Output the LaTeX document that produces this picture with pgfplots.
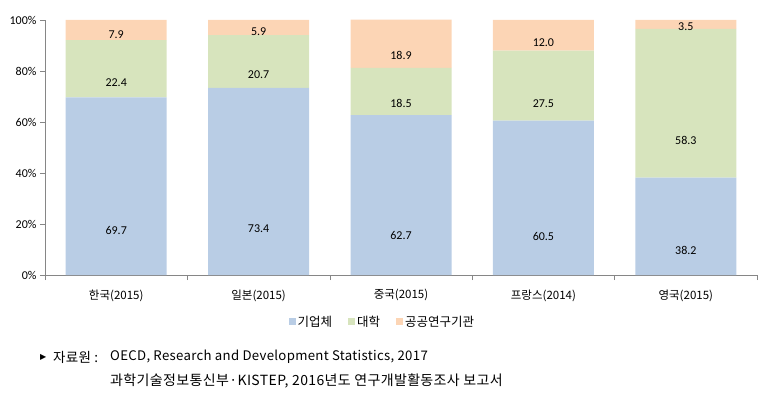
\documentclass[border=0pt]{standalone}
\usepackage{pgfplots}
\pgfplotsset{compat=1.18}
\usepackage{fontspec}
\setmainfont{Carlito}
\newfontfamily\kr{Noto Sans CJK KR}
\newfontfamily\krA[LetterSpace=2.4]{Noto Sans CJK KR}
\newfontfamily\krB[LetterSpace=2.6]{Noto Sans CJK KR}
\newfontfamily\dv{DejaVu Sans}
\definecolor{cBlue}{HTML}{B9CDE5}
\definecolor{cGreen}{HTML}{D7E4BD}
\definecolor{cOrange}{HTML}{FCD5B5}
\definecolor{axgray}{HTML}{868686}
\begin{document}
\begin{tikzpicture}
\useasboundingbox (-45pt,-131pt) rectangle (722pt,275pt);
\begin{axis}[
  anchor=south west,
  scale only axis, width=712pt, height=255.255pt,
  ybar stacked, bar width=101pt,
  xmin=-0.5, xmax=4.5, ymin=0, ymax=100.1,
  axis x line*=bottom, axis y line*=left,
  axis line style={axgray},
  tick style={axgray, thin},
  tick align=outside, major tick length=5pt,
  xtick={-0.5,0.5,1.5,2.5,3.5,4.5}, xticklabels={},
  extra x ticks={0,1,2,3,4},
  extra x tick labels={한국(2015),일본(2015),중국(2015),프랑스(2014),영국(2015)},
  extra x tick style={major tick length=0pt},
  xticklabel style={font=\kr\fontsize{11.5}{13}\selectfont, yshift=-11pt},
  ytick={0,20,40,60,80,100},
  yticklabels={0\%,20\%,40\%,60\%,80\%,100\%},
  yticklabel style={font=\fontsize{12}{14}\selectfont},
  /pgf/number format/assume math mode=true,
  nodes near coords,
  visualization depends on=rawy \as \rawy,
  every node near coord/.append style={font=\fontsize{12}{14}\selectfont, anchor=center, yshift={-0.6375pt*\rawy}},
  nodes near coords={\pgfmathprintnumber[fixed,fixed zerofill,precision=1]{\rawy}},
  legend columns=3,
  legend style={at={(0.474,-0.184)}, anchor=center, draw=none, fill=none,
    font=\kr\fontsize{12.5}{14}\selectfont, /tikz/every even column/.append style={column sep=14pt}},
  legend image code/.code={\fill[#1] (0pt,-3.5pt) rectangle (7pt,3.5pt);},
]
\addplot[fill=cBlue, draw=none] coordinates {(0,69.7) (1,73.4) (2,62.7) (3,60.5) (4,38.2)};
\addplot[fill=cGreen, draw=none] coordinates {(0,22.4) (1,20.7) (2,18.5) (3,27.5) (4,58.3)};
\addplot[fill=cOrange, draw=none] coordinates {(0,7.9) (1,5.9) (2,18.9) (3,12.0) (4,3.5)};
\legend{기업체,대학,공공연구기관}
\end{axis}
\node[anchor=west, inner sep=0pt] at (-5pt,-82pt) {\dv\fontsize{8}{10}\selectfont ▶};
\node[anchor=west, inner sep=0pt] at (8pt,-82pt) {\krA\fontsize{13.5}{15}\selectfont 자료원 :};
\node[anchor=west, inner sep=0pt] at (65pt,-82pt) {\krA\fontsize{13.2}{15}\selectfont OECD, Research and Development Statistics, 2017};
\node[anchor=west, inner sep=0pt] at (65pt,-106pt) {\krB\fontsize{14}{16}\selectfont 과학기술정보통신부·KISTEP, 2016년도 연구개발활동조사 보고서};
\end{tikzpicture}
\end{document}
